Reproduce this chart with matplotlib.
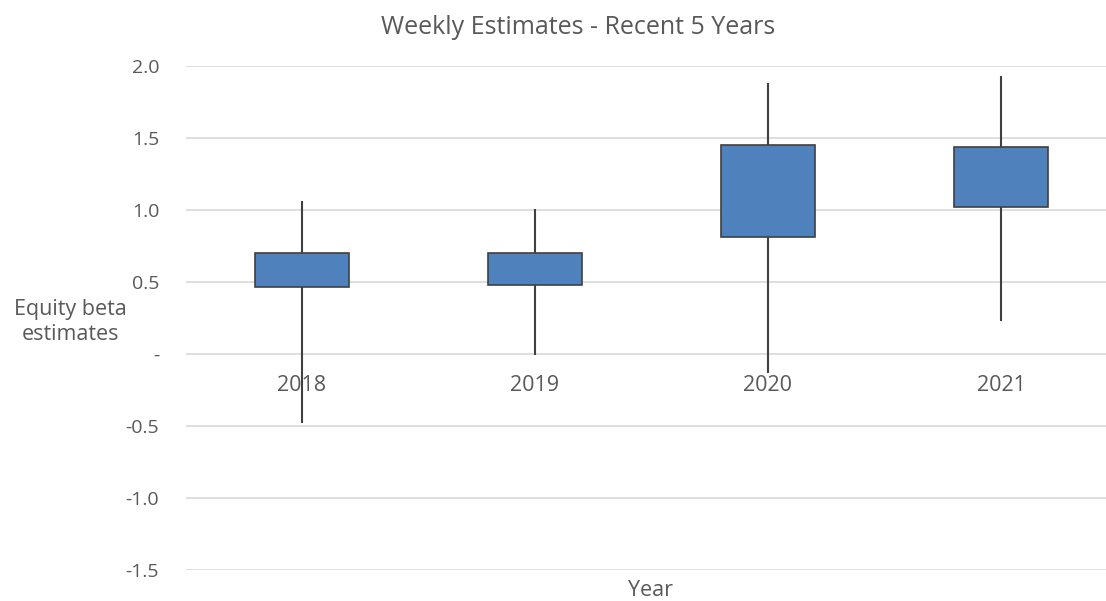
import matplotlib
matplotlib.use("Agg")
import matplotlib.pyplot as plt

# dados (estilo candlestick do Excel)
anos = ['2018', '2019', '2020', '2021']
maximo = [1.06, 1.01, 1.88, 1.93]
topo_caixa = [0.70, 0.70, 1.45, 1.44]
base_caixa = [0.465, 0.48, 0.815, 1.02]
minimo = [-0.48, -0.01, -0.13, 0.23]

y_ticks = [-1.5, -1.0, -0.5, 0.0, 0.5, 1.0, 1.5, 2.0]
y_rotulos = ['-1.5', '-1.0', '-0.5', '-', '0.5', '1.0', '1.5', '2.0']

cinza_texto = '#595959'
azul = '#4F81BD'
borda = '#404040'

plt.rcParams['font.family'] = ['Open Sans', 'DejaVu Sans']

fig = plt.figure(figsize=(11.06, 6.01), dpi=100)
ax = fig.add_axes([185.5 / 1106, 31 / 601, 932 / 1106, 504 / 601])

x = list(range(len(anos)))

# linhas de máximo/mínimo
ax.vlines(x, minimo, maximo, color=borda, linewidth=1.5, zorder=2)

# caixas
alturas = [t - b for t, b in zip(topo_caixa, base_caixa)]
ax.bar(x, alturas, bottom=base_caixa, width=0.4, color=azul,
       edgecolor=borda, linewidth=1.2, zorder=3)

ax.set_xlim(-0.5, len(anos) - 0.5)
ax.set_ylim(-1.5, 2.0)
ax.set_yticks(y_ticks)
ax.set_yticklabels(y_rotulos)
ax.yaxis.grid(True, color='#D9D9D9', linewidth=1.2)
ax.set_axisbelow(True)

for lado in ['top', 'right', 'left']:
    ax.spines[lado].set_visible(False)
ax.spines['bottom'].set_position(('data', 0))
ax.spines['bottom'].set_visible(False)

ax.set_xticks(x)
ax.set_xticklabels(anos)
ax.tick_params(axis='x', length=0, pad=15, labelsize=15.5, labelcolor=cinza_texto)
ax.tick_params(axis='y', length=0, pad=19, labelsize=14, labelcolor=cinza_texto)

ax.set_ylabel('Equity beta\nestimates', rotation=0, fontsize=15.5, color=cinza_texto,
              ha='center', va='center', linespacing=1.25)
ax.yaxis.set_label_coords(-115 / 932, (570 - 322) / 504)

fig.text(651 / 1106, 11 / 601, 'Year', ha='center', va='center',
         fontsize=15.5, color=cinza_texto)
fig.text(578 / 1106, 1 - 27 / 601, 'Weekly Estimates - Recent 5 Years', ha='center',
         va='center', fontsize=18, color=cinza_texto)

fig.savefig('out.png', dpi=100)
